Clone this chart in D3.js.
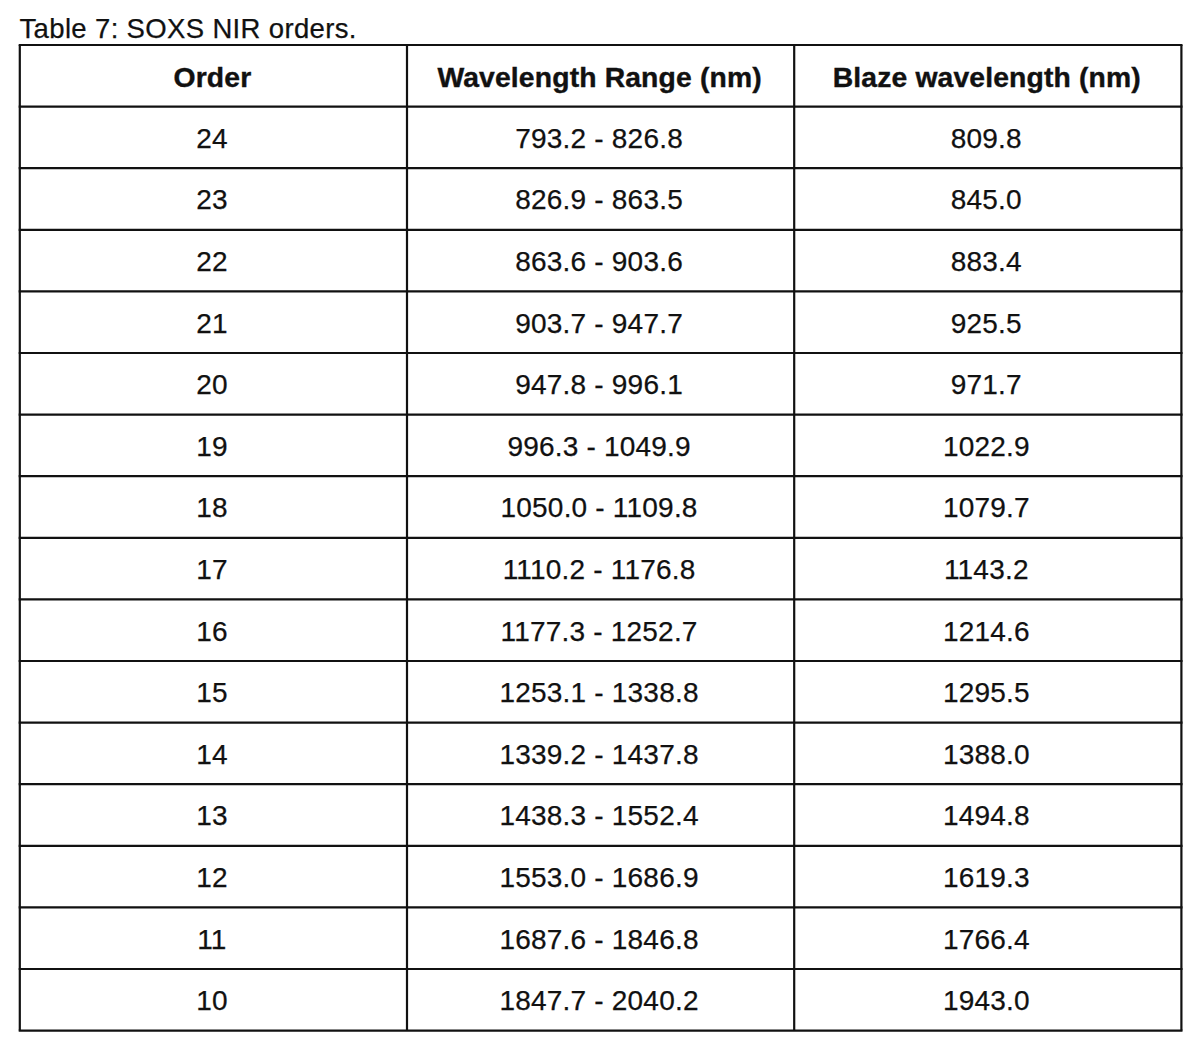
<!DOCTYPE html>
<html>
<head>
<meta charset="utf-8">
<script src="https://cdn.jsdelivr.net/npm/d3@7"></script>
<style>
  html, body { margin: 0; padding: 0; background: #fff; }
  svg { display: block; }
  text { font-family: "Liberation Sans", Arial, Helvetica, sans-serif; fill: #111; }
</style>
</head>
<body>
<svg id="chart" width="1200" height="1056"></svg>
<script>
const caption = "Table 7: SOXS NIR orders.";
const headers = ["Order", "Wavelength Range (nm)", "Blaze wavelength (nm)"];
const orders = [24, 23, 22, 21, 20, 19, 18, 17, 16, 15, 14, 13, 12, 11, 10];
const rangeStart = [793.2, 826.9, 863.6, 903.7, 947.8, 996.3, 1050.0, 1110.2, 1177.3, 1253.1, 1339.2, 1438.3, 1553.0, 1687.6, 1847.7];
const rangeEnd = [826.8, 863.5, 903.6, 947.7, 996.1, 1049.9, 1109.8, 1176.8, 1252.7, 1338.8, 1437.8, 1552.4, 1686.9, 1846.8, 2040.2];
const blaze = [809.8, 845.0, 883.4, 925.5, 971.7, 1022.9, 1079.7, 1143.2, 1214.6, 1295.5, 1388.0, 1494.8, 1619.3, 1766.4, 1943.0];

const rows = orders.map((o, i) => [
  String(o),
  rangeStart[i].toFixed(1) + " - " + rangeEnd[i].toFixed(1),
  blaze[i].toFixed(1)
]);

const svg = d3.select("#chart");
const nRows = rows.length + 1;
const y = d3.scaleLinear().domain([0, nRows]).range([45, 1030.6]);
const x = d3.scaleLinear().domain([0, 3]).range([19.8, 1181.4]);

// caption
svg.append("text")
  .attr("x", 19.5).attr("y", 37.5)
  .attr("font-size", 27.5).attr("letter-spacing", 0.35)
  .attr("stroke", "#111").attr("stroke-width", 0.25)
  .text(caption);

// header text
svg.selectAll("text.hdr").data(headers).join("text")
  .attr("class", "hdr")
  .attr("x", (d, i) => (x(i) + x(i + 1)) / 2 - 1)
  .attr("y", (y(0) + y(1)) / 2 + 11)
  .attr("text-anchor", "middle")
  .attr("font-size", 28.3).attr("font-weight", "bold").attr("letter-spacing", 0.15)
  .attr("stroke", "#111").attr("stroke-width", 0.4)
  .text(d => d);

// body cells
const rowG = svg.selectAll("g.row").data(rows).join("g").attr("class", "row");
rowG.selectAll("text").data((d, r) => d.map((v, c) => ({v, c, r: r + 1}))).join("text")
  .attr("x", d => (x(d.c) + x(d.c + 1)) / 2 - 1.5)
  .attr("y", d => (y(d.r) + y(d.r + 1)) / 2 + 10.3)
  .attr("text-anchor", "middle")
  .attr("font-size", 28).attr("letter-spacing", 0.2)
  .attr("stroke", "#111").attr("stroke-width", 0.25)
  .text(d => d.v);

// grid lines
const hLines = d3.range(nRows + 1);
svg.selectAll("line.h").data(hLines).join("line")
  .attr("class", "h")
  .attr("x1", x(0) - 1.1).attr("x2", x(3) + 1.1)
  .attr("y1", d => y(d)).attr("y2", d => y(d))
  .attr("stroke", "#111").attr("stroke-width", 2.2);
svg.selectAll("line.v").data(d3.range(4)).join("line")
  .attr("class", "v")
  .attr("x1", d => x(d)).attr("x2", d => x(d))
  .attr("y1", y(0)).attr("y2", y(nRows))
  .attr("stroke", "#111").attr("stroke-width", 2.2);
</script>
</body>
</html>
